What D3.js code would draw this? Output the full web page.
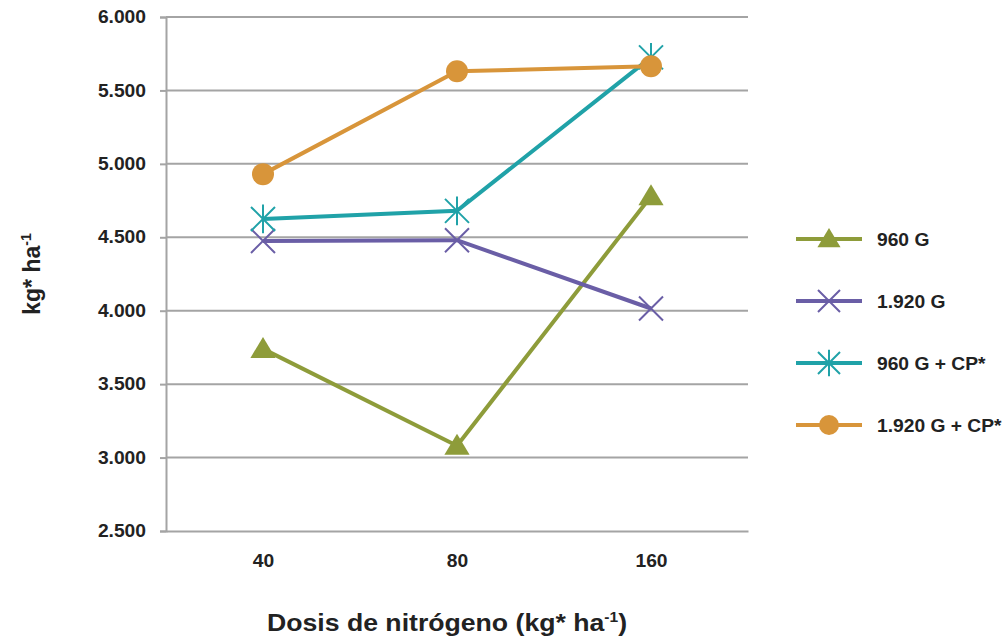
<!DOCTYPE html>
<html lang="es">
<head>
  <meta charset="UTF-8">
  <title>Rendimiento</title>
  <script src="https://d3js.org/d3.v7.min.js"></script>
  <style>
    body { margin: 0; background: #fff; font-family: "Liberation Sans", Arial, sans-serif; }
    #chart text { font-weight: bold; fill: #222; }
  </style>
</head>
<body>
  <div id="chart"></div>
  <script>
    const width = 1005;
    const height = 637;
    const margin = {top: 17, right: 257, bottom: 106, left: 166};

    // data
    const doses = ["40", "80", "160"];
    const yTicks = [2500, 3000, 3500, 4000, 4500, 5000, 5500, 6000];
    const seriesNames = ["960 G", "1.920 G", "960 G + CP*", "1.920 G + CP*"];
    const g960 = [3740, 3080, 4780];
    const g1920 = [4475, 4480, 4015];
    const g960cp = [4625, 4680, 5725];
    const g1920cp = [4930, 5630, 5665];

    const series = [
      {name: seriesNames[0], values: g960, color: "#8e9c3a", marker: "triangle"},
      {name: seriesNames[1], values: g1920, color: "#6a5ea6", marker: "x"},
      {name: seriesNames[2], values: g960cp, color: "#20a2a8", marker: "star"},
      {name: seriesNames[3], values: g1920cp, color: "#d8953a", marker: "circle"}
    ];

    const fmt = d => d3.format(",.3f")(d / 1000).replace(",", "");

    // the scan is a bit wider than tall, widen the text the same way
    function stretch(sel, k) {
      sel.each(function() {
        const t = d3.select(this);
        const tx = +t.attr("x") || 0;
        t.attr("transform", `translate(${tx},0) scale(${k},1) translate(${-tx},0)`);
      });
    }

    const svg = d3.select("#chart").append("svg")
      .attr("width", width)
      .attr("height", height);

    const g = svg.append("g")
      .attr("transform", `translate(${margin.left},${margin.top})`);

    const w = width - margin.left - margin.right;
    const h = height - margin.top - margin.bottom;

    const x = d3.scalePoint().domain(doses).range([0, w]).padding(0.5);
    const y = d3.scaleLinear().domain([2500, 6000]).range([h, 0]);

    // grid
    g.append("g").selectAll("line")
      .data(yTicks.slice(1))
      .join("line")
      .attr("x1", 0).attr("x2", w)
      .attr("y1", d => y(d)).attr("y2", d => y(d))
      .attr("stroke", "#a4a4a4").attr("stroke-width", 2);

    // y axis
    const yAxis = g.append("g")
      .call(d3.axisLeft(y).tickValues(yTicks).tickFormat(fmt).tickSize(6).tickPadding(14));
    yAxis.select(".domain").attr("stroke", "#a4a4a4").attr("stroke-width", 2);
    yAxis.selectAll(".tick line").attr("stroke", "#a4a4a4").attr("stroke-width", 2);
    yAxis.selectAll("text").style("font-size", "17.5px").call(stretch, 1.1);

    // x axis
    const xAxis = g.append("g")
      .attr("transform", `translate(0,${h})`)
      .call(d3.axisBottom(x).tickSize(0).tickPadding(24));
    xAxis.select(".domain").attr("stroke", "#a4a4a4").attr("stroke-width", 2);
    xAxis.selectAll("text").style("font-size", "17.5px").call(stretch, 1.1);

    function drawMarker(sel, type, color, s) {
      if (type === "triangle") {
        sel.append("path")
          .attr("d", `M0,${-s}L${s * 1.05},${s * 0.75}L${-s * 1.05},${s * 0.75}Z`)
          .attr("fill", color);
      } else if (type === "circle") {
        sel.append("circle").attr("r", s).attr("fill", color);
      } else if (type === "x") {
        sel.append("path")
          .attr("d", `M${-s},${-s}L${s},${s}M${-s},${s}L${s},${-s}`)
          .attr("stroke", color).attr("stroke-width", 2).attr("fill", "none");
      } else if (type === "star") {
        sel.append("path")
          .attr("d", `M${-s},${-s}L${s},${s}M${-s},${s}L${s},${-s}M0,${-s * 1.2}L0,${s * 1.2}`)
          .attr("stroke", color).attr("stroke-width", 2).attr("fill", "none");
      }
    }

    const line = d3.line().x((d, i) => x(doses[i])).y(d => y(d));

    series.forEach(s => {
      g.append("path")
        .datum(s.values)
        .attr("fill", "none")
        .attr("stroke", s.color)
        .attr("stroke-width", 4)
        .attr("d", line);
      s.values.forEach((v, i) => {
        const m = g.append("g").attr("transform", `translate(${x(doses[i])},${y(v)})`);
        drawMarker(m, s.marker, s.color, s.marker === "circle" ? 11 : 12);
      });
    });

    // legend
    const legend = svg.append("g").attr("transform", "translate(796,239)");
    series.forEach((s, i) => {
      const row = legend.append("g").attr("transform", `translate(0,${i * 62})`);
      row.append("line").attr("x1", 0).attr("x2", 66).attr("y1", 0).attr("y2", 0)
        .attr("stroke", s.color).attr("stroke-width", 4);
      const m = row.append("g").attr("transform", "translate(33,0)");
      drawMarker(m, s.marker, s.color, s.marker === "circle" ? 10 : 11);
      row.append("text").attr("x", 81).attr("y", 7)
        .style("font-size", "18.5px").text(s.name)
        .call(stretch, 1.04);
    });

    // axis titles
    const yTitle = svg.append("text")
      .attr("transform", `translate(40,${margin.top + h / 2}) rotate(-90)`)
      .attr("text-anchor", "middle")
      .style("font-size", "23px");
    yTitle.append("tspan").text("kg* ha");
    yTitle.append("tspan").attr("dy", -9).style("font-size", "14px").text("-1");

    const xTitle = svg.append("text")
      .attr("transform", "translate(447,631) scale(1.11,1)")
      .attr("text-anchor", "middle")
      .style("font-size", "24px");
    xTitle.append("tspan").text("Dosis de nitrógeno (kg* ha");
    xTitle.append("tspan").attr("dy", -9).style("font-size", "14px").text("-1");
    xTitle.append("tspan").attr("dy", 9).text(")");
  </script>
</body>
</html>
